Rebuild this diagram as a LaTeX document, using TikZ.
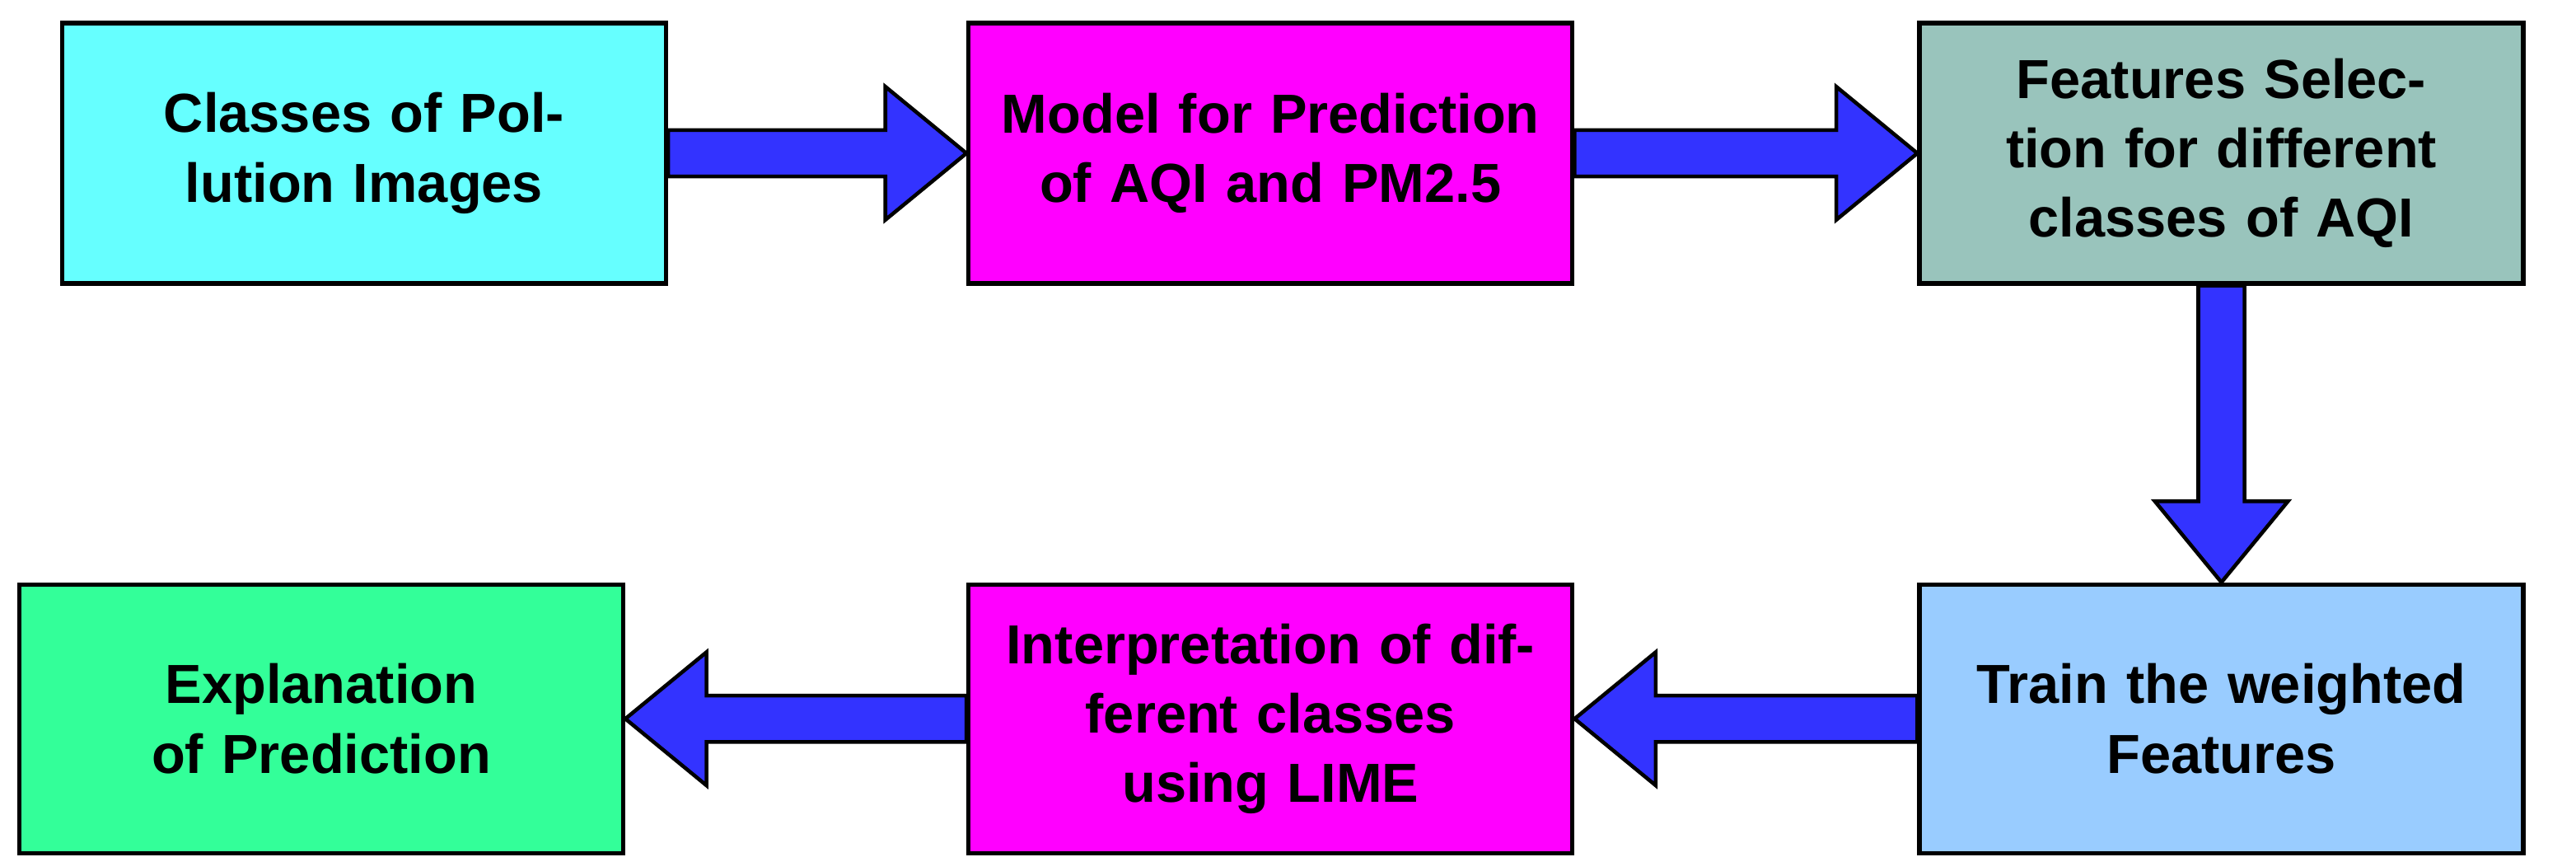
\documentclass[tikz,border=0pt]{standalone}
\usepackage{fontspec}
\setmainfont{Liberation Sans}
\usetikzlibrary{positioning,calc}
\definecolor{boxcyan}{HTML}{66FFFF}
\definecolor{boxmagenta}{HTML}{FF00FF}
\definecolor{boxteal}{HTML}{99C4BC}
\definecolor{boxblue}{HTML}{99CCFF}
\definecolor{boxgreen}{HTML}{33FF99}
\definecolor{arrowblue}{HTML}{3333FF}
\tikzset{
  stage/.style={draw, line width=1.5pt, minimum width=7.33cm, text width=6.6cm, align=center,
    font=\fontsize{19}{24}\selectfont\bfseries, inner sep=0pt},
  fat/.style={draw=black, fill=arrowblue, line width=1.3pt, line join=miter,
    to path={let \p1=(\tikztostart), \p2=(\tikztotarget),
      \n1={atan2(\y2-\y1,\x2-\x1)}, \n2={veclen(\x2-\x1,\y2-\y1)} in
      {[shift={(\p1)}, rotate=\n1] (0,8pt) -- ({\n2-28pt},8pt) -- ({\n2-28pt},23pt) -- (\n2,0)
      -- ({\n2-28pt},-23pt) -- ({\n2-28pt},-8pt) -- (0,-8pt) -- cycle}}}
}
\begin{document}
\begin{tikzpicture}
    \useasboundingbox (0,0) rectangle (31.27,-10.40);
    % Define nodes
    \node (classes) [stage, fill=boxcyan, minimum height=3.16cm] at (4.42,-1.86) {Classes of Pollution Images};
    \node (model) [stage, fill=boxmagenta, minimum height=3.16cm, right=3.62cm of classes] {Model for Prediction of AQI and PM2.5};
    \node (selection) [stage, fill=boxteal, minimum height=3.16cm, right=4.16cm of model] {Features Selection for different classes of AQI};
    \node (train) [stage, fill=boxblue, minimum height=3.26cm, below=3.6cm of selection] {Train the weighted Features};
    \node (lime) [stage, fill=boxmagenta, minimum height=3.26cm, left=4.16cm of train] {Interpretation of different classes using LIME};
    \node (explain) [stage, fill=boxgreen, minimum height=3.26cm, left=4.14cm of lime] {Explanation of Prediction};

    % Draw arrows
    \draw[fat] (classes.east) to (model.west);
    \draw[fat] (model.east) to (selection.west);
    \draw[fat] (selection.south) to (train.north);
    \draw[fat] (train.west) to (lime.east);
    \draw[fat] (lime.west) to (explain.east);
\end{tikzpicture}
\end{document}
